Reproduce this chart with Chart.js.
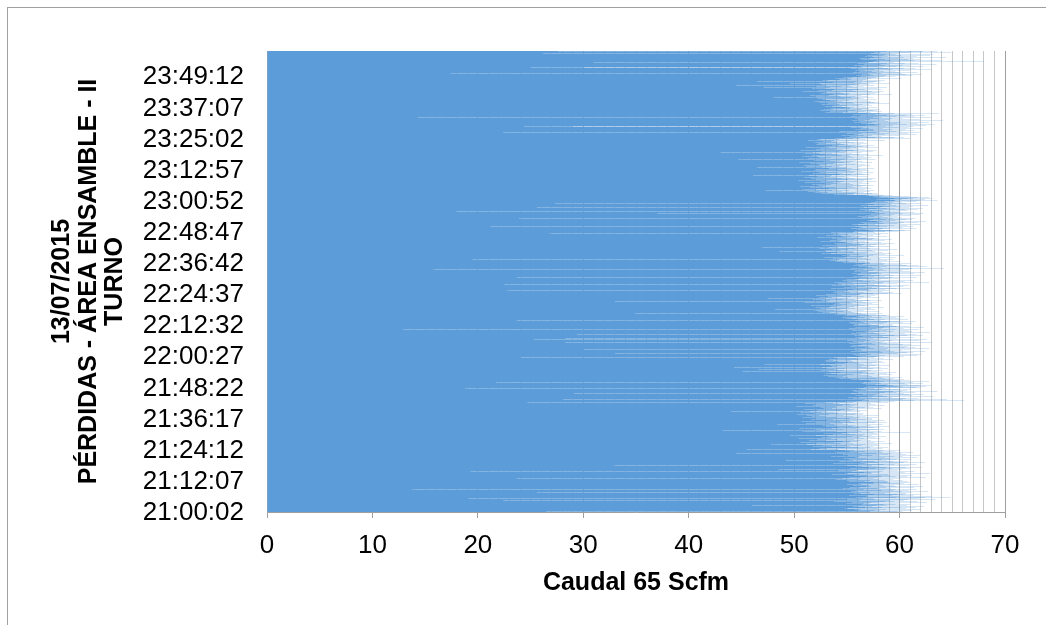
<!DOCTYPE html>
<html>
<head>
<meta charset="utf-8">
<script src="https://cdn.jsdelivr.net/npm/chart.js@4/dist/chart.umd.min.js"></script>
<style>
  html, body { margin: 0; padding: 0; background: #fff; }
  #wrap { width: 1046px; height: 625px; position: relative; }
</style>
</head>
<body>
<div id="wrap"><canvas id="lossChart" width="1046" height="625"></canvas></div>
<script>
/* =========================
   DATA (one reading every 5 s, 21:00:02 onwards)
========================= */
const startTime = '21:00:02';
const stepSeconds = 5;
const tickLabels = ['21:00:02', '21:12:07', '21:24:12', '21:36:17', '21:48:22', '22:00:27', '22:12:32',
  '22:24:37', '22:36:42', '22:48:47', '23:00:52', '23:12:57', '23:25:02', '23:37:07', '23:49:12'];
const xTicks = [0, 10, 20, 30, 40, 50, 60, 70];

const b210002 = [26.5,57.2,59.8,55.4,60.3,58.1,56.0,61.2,57.6,55.8, 59.4,62.0,56.3,58.7,55.1,60.6,57.9,59.2,54.8,61.5,
  58.3,56.7,60.1,55.6,59.0,57.4,62.3,56.1,46.0,58.8, 60.7,55.3,57.8,59.6,56.4,61.0,58.5,54.9,60.2,57.1,
  59.9,56.6,62.6,58.0,55.5,60.9,57.3,59.5,53.8,61.7, 58.6,22.4,57.0,60.4,56.2,59.1,63.4,57.7,55.0,60.8,
  58.9,19.1,56.5,61.9,57.5,59.7,64.8,58.2,55.9,62.4, 57.0,60.0,56.8,63.1,58.4,55.2,61.3,59.3,56.9,60.5,
  57.6,54.7,59.8,62.1,56.3,58.6,60.6,55.7,58.0,25.6, 61.1,57.2,59.0,55.4,60.2,57.8,62.7,56.0,59.4,58.3,
  55.8,60.9,57.4,13.8,59.6,56.6,61.6,58.1,54.6,60.3, 57.9,59.2,56.2,61.4,58.7,55.3,60.0,57.3,59.7,56.8,
  62.2,58.5,55.6,60.7,57.1,59.5,56.4,61.8,58.2,55.0, 20.7,59.9,57.6,60.4,56.1,58.8,61.0,55.9,59.1,57.5,
  60.8,56.7,58.9,55.2,61.3];
const b211207 = [58.6,55.0,60.3,57.2,53.9,59.4,61.8,56.1,58.0,23.7, 57.5,60.1,54.6,58.8,56.3,62.5,57.9,55.2,59.6,56.8,
  60.7,54.4,58.3,57.0,61.2,55.7,59.1,53.6,57.8,60.0, 56.2,58.9,55.1,62.9,57.4,59.7,54.8,58.1,56.6,60.5,
  57.3,19.3,59.2,55.5,58.4,61.4,56.0,54.2,59.8,57.6, 55.9,60.2,48.5,58.6,56.9,61.0,54.5,57.7,59.3,55.3,
  62.1,57.1,58.7,53.8,60.6,56.4,59.0,55.8,57.9,32.9, 58.2,60.9,54.9,57.4,59.5,56.1,61.6,55.0,58.5,57.0,
  53.7,59.9,56.7,60.4,55.4,58.0,62.4,56.3,57.6,54.3, 59.4,57.1,60.8,55.6,58.8,56.5,49.2,59.7,57.3,61.1,
  55.2,58.3,56.8,60.0,54.7,57.9,59.1,56.0,61.7,55.8, 58.6,53.5,57.7,60.3,56.2,59.5,55.1,58.1,62.0,56.9,
  57.4,60.6,54.6,58.9,56.4,44.5,59.2,55.5,57.8,60.2, 53.9,58.4,56.1,61.3,57.5,55.3,59.6,56.7,58.2,54.8,
  60.1,57.0,55.7,58.5,45.5];
const b212412 = [54.2,57.8,51.6,55.9,58.4,53.1,56.7,52.4,57.2,54.8, 50.9,56.1,58.9,53.6,55.3,51.8,57.5,54.0,56.4,52.7,
  58.1,55.0,47.8,56.8,53.3,57.9,51.2,55.6,59.3,54.4, 52.1,56.9,55.2,50.6,57.6,53.8,56.0,58.6,52.9,55.4,
  54.6,57.3,51.4,56.3,53.0,60.8,55.7,52.2,57.0,54.1, 56.6,50.4,55.1,58.2,53.5,56.2,52.6,57.7,54.9,51.7,
  57.1,55.5,53.2,58.7,49.6,56.5,54.3,57.4,52.0,55.8, 58.0,53.7,56.7,51.3,55.2,57.8,54.5,52.8,61.0,56.0,
  53.4,57.5,55.0,50.8,56.4,58.3,53.9,43.2,55.6,57.2, 52.5,56.1,54.7,58.5,51.9,55.3,57.9,53.6,56.8,50.5,
  55.9,58.1,52.3,56.2,54.2,57.6,53.0,55.5,59.0,51.5, 56.9,54.0,57.3,52.7,55.8,48.4,56.6,53.8,58.4,55.1,
  51.1,57.0,54.6,56.3,53.4,58.8,52.0,55.7,57.7,54.4, 56.5,50.7,55.4,57.9,53.1,56.0,58.6,52.6,55.2,57.4,
  53.7,56.8,51.6,55.9,58.2];
const b213617 = [55.3,52.1,57.4,54.0,50.8,56.2,53.5,57.9,51.7,55.6, 53.0,56.8,52.4,55.1,58.0,51.2,54.7,56.5,50.3,55.8,
  57.2,53.3,55.9,51.9,56.6,54.2,52.6,57.6,53.8,55.0, 50.6,44.0,56.3,53.1,57.8,51.5,55.4,54.4,56.9,52.2,
  55.7,57.0,50.9,54.8,56.1,52.8,58.3,53.6,55.2,51.4, 56.7,54.0,57.5,52.5,55.5,50.2,56.4,53.9,57.1,54.6,
  51.8,55.8,58.6,53.2,56.0,52.0,55.3,57.7,54.3,51.0, 56.2,53.7,57.3,24.7,55.6,58.9,52.9,56.8,54.9,59.5,
  55.9,58.2,61.4,56.4,59.8,57.1,66.1,28.1,60.3,56.7, 64.5,58.5,55.6,61.8,57.9,60.6,56.2,59.3,62.7,57.4,
  55.1,60.0,58.8,63.2,56.9,59.6,57.5,61.2,55.8,58.4, 60.9,56.5,59.0,57.8,62.3,29.1,58.1,55.4,60.4,57.0,
  59.7,56.0,61.5,58.6,55.7,60.2,57.3,59.4,63.6,56.8, 58.0,60.7,55.5,57.7,59.9,56.3,61.1,58.3,18.8,57.6,
  60.5,55.9,58.7,62.0,56.6];
const b214822 = [58.4,61.6,57.2,59.8,62.5,56.9,60.3,58.7,63.0,57.5, 59.4,61.9,56.8,58.9,60.8,57.7,62.2,59.1,56.4,60.5,
  58.2,21.7,61.3,57.9,59.6,56.6,60.1,58.5,62.8,57.3, 59.9,55.8,61.0,58.0,57.1,60.4,56.2,59.2,57.6,55.4,
  58.6,54.3,57.8,59.5,53.9,56.7,58.3,55.1,60.2,54.6, 57.4,53.2,56.0,59.0,54.9,57.1,52.8,58.1,55.6,53.7,
  59.3,56.3,54.1,57.6,52.9,58.8,55.3,53.5,57.0,54.4, 56.5,59.7,45.1,55.0,57.9,53.3,56.8,54.7,58.4,52.6,
  55.7,57.3,53.8,46.6,56.1,54.2,58.9,55.5,53.1,57.5, 54.8,56.9,52.7,58.2,55.2,44.3,57.2,53.6,56.4,54.0,
  59.1,55.8,53.4,57.7,54.5,56.6,52.5,58.0,55.9,47.2, 56.2,53.9,57.4,54.8,58.6,52.2,56.0,55.1,57.8,53.0,
  55.6,58.3,54.2,56.7,52.9,57.9,55.4,53.7,59.4,56.1, 54.6,57.1,53.3,55.9,58.5,54.1,56.8,52.4,24.1,57.6,
  55.0,53.8,58.1,56.3,54.7];
const b220027 = [57.8,60.4,55.9,58.6,61.7,56.8,59.2,57.3,62.1,58.0, 55.6,33.0,60.0,57.5,59.8,56.2,61.3,58.4,56.9,60.7,
  57.1,59.5,55.4,62.4,58.2,56.5,60.2,57.9,59.1,55.8, 30.0,58.7,61.0,56.3,59.7,57.6,62.8,55.7,58.9,60.5,
  56.7,59.0,57.2,61.5,55.3,58.5,60.8,57.0,59.4,56.1, 62.0,58.1,55.5,60.3,57.7,59.6,56.4,61.1,58.8,55.2,
  59.9,57.4,60.6,28.3,56.0,58.3,63.1,57.8,55.6,60.1, 58.6,56.6,61.9,57.2,59.3,55.0,60.9,58.0,56.8,62.6,
  25.3,28.3,59.7,56.2,60.4,57.5,58.9,61.4,55.8,59.0, 57.3,64.6,56.5,60.0,58.4,62.2,55.7,59.5,57.0,60.7,
  29.4,58.2,56.3,61.6,57.9,59.2,55.4,60.5,58.7,56.9, 62.9,57.6,59.8,55.9,58.1,61.2,56.7,59.4,57.1,60.2,
  55.5,58.8,60.9,12.9,57.4,59.6,56.0,61.8,58.3,55.2, 60.4,57.8,59.1,56.4,62.3,58.5,55.8,60.0,57.2,59.7,
  56.1,61.0,58.0,55.6,59.3];
const b221232 = [58.0,55.7,60.6,57.3,59.4,56.1,61.2,58.5,55.4,59.9, 57.0,60.3,56.6,58.8,55.2,61.5,57.7,59.1,56.3,60.0,
  23.7,58.2,56.9,59.6,55.8,57.6,60.8,56.0,58.6,54.9, 59.3,57.2,55.5,60.1,56.7,58.3,54.6,57.9,59.7,55.9,
  57.4,60.4,56.2,54.8,58.7,55.3,57.1,59.0,53.9,56.8, 55.0,57.8,53.6,34.9,56.4,54.2,58.4,52.7,55.6,57.5,
  53.4,56.0,54.7,58.1,52.3,55.4,57.0,53.8,56.6,51.9, 55.1,57.7,53.0,56.3,54.4,48.2,55.8,57.3,52.5,54.9,
  56.9,53.3,55.2,58.5,52.0,56.1,54.0,57.6,53.5,55.7, 51.6,56.7,54.5,57.1,52.8,55.0,58.0,53.7,56.2,54.3,
  57.4,52.2,55.5,53.9,56.8,50.9,55.3,57.9,54.1,33.0, 56.5,53.1,55.9,58.3,52.6,54.8,57.2,53.4,56.0,51.8,
  55.7,54.6,57.5,52.9,56.4,47.5,55.1,58.1,53.6,56.9, 54.0,52.4,57.3,55.4,53.2,56.6,58.4,54.5,52.1,55.9,
  57.7,53.0,56.3,54.2,58.0];
const b222437 = [56.2,58.9,54.1,57.5,60.2,55.3,58.0,53.7,59.4,56.6, 54.8,58.4,56.0,60.7,53.9,22.8,57.3,55.1,59.0,56.9,
  54.3,58.6,57.1,55.6,61.0,53.5,57.8,56.3,59.7,54.7, 58.1,55.9,57.4,60.4,54.0,56.7,59.2,55.4,57.9,53.6,
  58.7,56.1,60.9,22.5,55.7,57.6,54.5,59.8,56.4,58.3, 54.2,57.0,62.8,55.5,58.5,56.8,53.8,59.1,57.2,55.0,
  60.5,56.5,58.8,54.6,57.7,61.3,55.8,58.2,56.0,59.6, 54.9,57.4,60.0,56.2,58.9,23.7,55.2,59.3,57.0,61.6,
  56.4,58.6,55.6,60.8,57.6,59.4,56.7,62.0,58.1,55.9, 60.1,57.3,59.0,56.1,61.4,58.3,55.5,60.6,57.8,59.9,
  56.3,62.4,58.0,55.7,59.5,57.1,61.0,56.9,58.7,60.3, 55.8,59.2,57.5,15.8,60.9,58.4,56.6,64.2,57.7,59.7,
  55.4,61.2,58.2,56.8,60.0,57.4,59.3,62.6,56.1,58.8, 57.0,60.7,55.6,59.1,57.9,61.8,56.5,58.5,60.2,55.9,
  59.4,57.2,61.1,56.7,58.6];
const b223642 = [57.2,54.6,59.0,55.8,58.3,53.9,56.7,60.1,55.2,57.6, 54.0,58.8,56.1,53.4,19.5,57.3,55.5,59.4,54.3,56.9,
  58.2,53.7,55.9,57.8,52.8,56.4,59.6,54.8,57.1,55.0, 53.2,58.0,56.6,54.5,57.5,60.4,55.3,53.8,58.6,56.2,
  54.9,57.9,52.6,56.8,55.4,59.2,53.5,57.0,55.7,58.4, 54.1,56.3,53.0,57.7,48.6,55.6,58.9,54.4,56.5,52.9,
  57.4,55.1,59.8,53.6,56.0,54.7,58.1,52.4,57.2,55.8, 53.3,56.9,58.5,54.2,46.9,57.6,55.2,53.9,59.1,56.4,
  54.6,57.3,52.7,55.9,58.7,54.0,56.6,53.1,57.8,55.5, 59.5,53.8,56.2,54.8,27.1,57.1,55.0,58.3,52.5,56.7,
  54.3,57.9,55.6,53.4,58.6,56.0,54.5,57.4,52.9,55.7, 59.3,54.1,56.8,53.6,57.6,55.3,58.0,52.2,56.1,54.9,
  57.0,55.4,53.2,58.8,56.3,54.6,57.5,53.0,55.8,59.7, 54.4,56.9,53.7,58.2,55.1,26.8,57.3,54.2,56.5,58.9,
  53.5,57.7,55.6,59.2,56.0];
const b224847 = [57.5,59.9,55.7,58.6,61.0,56.4,59.3,57.1,60.5,55.9, 58.2,56.8,60.9,57.6,59.0,55.4,61.6,58.4,56.2,59.7,
  57.9,60.3,56.5,21.2,58.8,61.3,57.3,55.8,59.5,57.0, 60.7,58.1,56.0,59.2,62.0,57.7,55.5,60.1,58.5,56.6,
  59.8,57.4,61.8,58.0,56.3,60.4,57.8,59.1,55.6,62.5, 58.3,56.9,60.0,57.2,59.6,56.1,61.2,58.7,57.5,60.6,
  23.9,59.4,56.7,61.5,58.2,57.0,60.2,58.9,56.4,62.9, 57.6,59.8,58.4,56.0,61.1,57.9,60.7,56.8,59.2,58.1,
  61.9,57.3,59.5,56.5,37.0,60.3,58.6,62.3,57.7,59.9, 56.9,61.4,58.0,17.9,60.0,57.4,59.1,63.2,58.3,56.7,
  60.8,58.5,57.1,61.7,59.3,56.2,60.5,58.8,57.8,62.2, 59.6,57.5,25.6,60.9,58.2,56.6,61.3,59.0,57.2,60.1,
  58.4,62.7,57.0,59.7,56.3,60.4,58.7,61.0,57.6,59.2, 27.3,60.6,58.1,56.8,62.1,59.4,57.3,60.2,58.9,63.4,
  57.7,60.0,58.6,61.6,59.5];
const b230052 = [59.6,61.9,58.4,63.6,60.2,57.8,62.4,59.1,61.3,58.7, 60.8,63.1,59.5,57.9,61.7,58.9,60.4,62.8,58.2,59.9,
  61.0,57.5,59.3,60.6,56.8,58.5,57.1,55.6,58.0,54.9, 56.3,53.8,57.4,52.6,55.7,57.9,51.9,54.8,56.6,53.2,
  55.9,57.2,52.4,54.5,56.9,51.3,47.3,55.2,53.6,57.6, 52.1,55.4,54.0,56.7,50.8,55.0,57.3,53.3,54.6,56.1,
  51.5,55.8,53.9,57.0,52.7,54.3,56.4,50.6,55.5,53.0, 56.8,52.3,54.9,57.5,53.5,55.6,51.7,56.2,54.1,48.9,
  55.3,57.1,52.9,54.4,56.5,51.0,55.9,53.7,57.8,52.5, 54.7,56.0,53.1,55.5,50.4,56.6,54.2,57.4,52.0,55.1,
  53.8,56.9,51.6,55.7,54.5,57.7,52.8,54.0,56.3,50.9, 55.2,53.4,57.0,52.2,54.8,56.1,51.4,55.9,53.6,46.1,
  54.3,56.7,52.6,55.4,57.2,53.0,54.6,51.8,56.4,53.9, 55.6,52.4,57.5,54.1,50.7,55.8,53.5,56.5,52.9,54.9,
  57.1,51.9,55.3,53.7,56.2];
const b231257 = [54.2,56.8,52.0,55.5,57.6,51.6,54.9,53.3,46.5,56.1, 52.7,55.0,57.9,53.6,51.2,56.4,54.3,52.5,57.2,55.2,
  50.9,54.6,56.7,53.1,55.8,52.3,58.1,54.0,51.5,56.0, 53.7,55.3,57.4,52.1,54.7,50.5,56.5,53.9,55.6,52.8,
  57.0,54.4,51.9,55.9,53.4,44.7,56.3,52.6,54.8,57.7, 53.0,55.1,51.3,56.9,54.2,52.4,55.7,57.3,53.5,50.8,
  55.4,53.8,56.6,52.2,54.5,58.4,51.7,55.2,53.2,56.2, 52.9,54.1,57.1,51.0,55.5,53.6,56.8,52.4,43.0,54.8,
  56.4,51.8,55.0,53.4,57.5,52.6,54.3,56.0,50.6,55.6, 53.1,57.8,54.6,52.0,56.7,53.9,55.3,51.4,56.1,54.0,
  52.5,55.9,58.0,53.3,54.9,51.1,56.5,52.9,55.4,57.0, 53.6,50.3,55.8,54.2,57.6,52.1,54.7,56.3,51.6,55.1,
  53.0,56.9,54.4,52.3,55.7,57.4,51.9,54.1,56.6,53.5, 55.2,52.7,57.2,54.0,51.3,56.0,53.8,58.6,52.5,55.5,
  54.3,56.8,52.2,61.0,53.9];
const b232502 = [55.6,58.9,56.2,60.4,54.8,57.7,59.5,55.3,61.1,57.0, 58.3,55.9,60.0,56.6,54.5,59.2,57.4,61.6,55.7,58.6,
  56.0,60.8,57.3,54.9,59.0,56.4,22.4,58.1,61.9,55.5, 57.8,59.7,56.1,54.3,60.2,57.6,58.8,55.2,61.4,56.9,
  59.3,55.8,57.5,60.6,54.7,58.4,56.3,62.2,57.1,55.4, 59.9,57.2,56.5,60.9,24.4,29.0,58.7,61.3,55.6,57.9,
  62.5,56.8,59.4,57.6,60.7,55.9,58.2,63.3,57.0,59.8, 56.4,61.7,58.5,55.7,60.1,57.4,62.8,58.9,56.2,59.6,
  61.0,57.8,55.5,64.1,58.6,56.7,60.5,57.2,62.0,59.1, 56.0,60.3,58.0,61.8,55.8,59.3,14.3,57.5,63.0,58.3,
  56.6,61.4,57.9,59.7,55.4,62.4,58.8,57.1,60.6,56.3, 59.0,61.2,57.7,55.6,60.0,58.2,63.7,56.9,59.5,57.3,
  54.6,57.2,52.9,56.0,55.1,58.3,53.4,56.7,54.2,57.5, 52.5,55.8,57.9,53.7,56.4,54.0,58.1,52.8,55.3,56.9,
  53.5,57.1,54.8,51.0,55.7];
const b233707 = [55.3,57.9,53.6,56.8,54.5,58.6,52.9,56.1,55.0,57.4, 53.8,56.5,58.2,54.3,52.6,57.1,55.7,53.2,59.0,56.3,
  54.0,57.6,52.4,55.5,58.0,53.9,56.7,54.6,51.9,57.3, 55.2,53.4,56.9,58.4,54.1,52.7,57.8,55.6,53.0,56.2,
  58.7,54.8,52.2,56.6,48.0,55.4,57.5,53.5,56.0,54.4, 52.0,57.0,55.8,53.3,58.9,56.4,54.2,51.5,57.2,55.1,
  53.7,56.8,59.3,54.7,52.5,57.7,55.3,53.1,56.5,58.1, 54.4,52.8,57.4,55.9,50.8,56.3,58.5,53.6,55.6,57.0,
  52.3,56.1,54.9,58.3,53.8,56.7,51.7,55.0,57.9,54.2, 52.9,47.1,56.0,58.8,53.4,55.5,57.3,52.1,56.6,54.5,
  44.5,57.6,55.2,53.0,58.0,56.2,52.6,55.8,57.1,49.6, 56.9,54.1,59.1,52.4,55.7,57.5,53.7,56.4,54.6,58.2,
  46.5,55.9,57.8,53.2,56.5,54.8,52.7,58.6,55.4,57.0, 54.3,56.8,59.4,53.9,57.3,55.1,60.2,54.7,58.1,56.0,
  57.7,55.5,59.6,56.3,58.5];
const b234912 = [56.8,59.4,57.5,61.2,55.9,58.7,60.6,57.2,59.8,56.4, 62.1,17.4,58.3,60.2,56.9,59.1,61.7,57.8,55.6,60.0,
  58.5,56.2,62.6,57.4,59.6,55.8,61.0,58.0,56.7,60.9, 57.6,59.3,63.0,56.1,58.9,60.4,57.0,55.4,61.5,25.0,
  30.1,58.4,56.5,60.7,57.9,59.7,62.3,56.3,58.6,61.1, 57.3,55.7,60.3,58.2,63.5,56.6,59.0,57.7,61.8,56.0,
  58.8,60.5,31.0,57.1,59.5,62.7,56.8,68.0,58.1,60.1, 57.5,61.4,55.9,59.2,57.8,63.9,58.6,56.4,60.8,58.0,
  62.0,57.2,59.9,56.2,61.3,58.3,26.0,60.4,57.6,64.4, 58.9,56.7,61.6,59.4,57.4,62.9,58.5,60.2,56.9,59.6,
  61.9,57.9,63.2,58.7,26.2,60.0,57.3,62.4,59.1,64.9, 58.2,61.0,57.6,27.6,60.7,63.6,58.8,62.2];

const caudal = [].concat(b210002, b211207, b212412, b213617, b214822, b220027, b221232, b222437,
  b223642, b224847, b230052, b231257, b232502, b233707, b234912);

const ticksEvery = 145;   // 12:05 between labelled readings

function toTime(sec) {
  const h = Math.floor(sec / 3600) % 24;
  const m = Math.floor(sec / 60) % 60;
  const s = sec % 60;
  return [h, m, s].map(n => String(n).padStart(2, '0')).join(':');
}
const [h0, m0, s0] = startTime.split(':').map(Number);
const times = caudal.map((_, i) => toTime(h0 * 3600 + m0 * 60 + s0 + i * stepSeconds));

/* =========================
   CHART
========================= */
const FONT = "'Liberation Sans', Arial, sans-serif";

// white page + outer frame
const frame = {
  id: 'frame',
  beforeDraw(c) {
    const g = c.ctx;
    g.save();
    g.fillStyle = '#fff';
    g.fillRect(0, 0, c.width, c.height);
    g.strokeStyle = '#a0a0a0';
    g.lineWidth = 1;
    g.strokeRect(7.5, 7.5, 1100, 700);
    g.restore();
  }
};

// thin bars are added up (coverage) on an empty layer, then the grid goes back underneath
let under = null;
const coverage = {
  id: 'coverage',
  beforeDatasetsDraw(c) {
    const g = c.ctx;
    under = document.createElement('canvas');
    under.width = c.canvas.width;
    under.height = c.canvas.height;
    under.getContext('2d').drawImage(c.canvas, 0, 0);
    g.save();
    g.setTransform(1, 0, 0, 1, 0, 0);
    g.clearRect(0, 0, c.canvas.width, c.canvas.height);
    g.restore();
    g.globalCompositeOperation = 'lighter';
  },
  afterDatasetsDraw(c) {
    const g = c.ctx;
    g.save();
    g.setTransform(1, 0, 0, 1, 0, 0);
    g.globalCompositeOperation = 'destination-over';
    g.drawImage(under, 0, 0);
    g.restore();
    g.globalCompositeOperation = 'source-over';
  }
};

new Chart(document.getElementById('lossChart'), {
  type: 'bar',
  data: {
    labels: times,
    datasets: [{
      data: caudal,
      backgroundColor: '#5B9BD5',
      borderWidth: 0,
      barPercentage: 1,
      categoryPercentage: 1,
      inflateAmount: 0
    }]
  },
  options: {
    indexAxis: 'y',
    responsive: false,
    animation: false,
    events: [],
    layout: { padding: { left: 0, top: 51, right: 41, bottom: 0 } },
    plugins: { legend: { display: false }, tooltip: { enabled: false } },
    scales: {
      x: {
        min: 0,
        max: 70,
        afterFit: s => { s.height = 113; },
        grid: {
          color: c => (c.tick && xTicks.includes(c.tick.value)) ? '#9f9f9f' : '#c6c6c6',
          tickColor: c => (c.tick && xTicks.includes(c.tick.value)) ? '#9f9f9f' : 'rgba(0,0,0,0)',
          tickLength: 6
        },
        border: { display: true, color: '#9f9f9f' },
        ticks: {
          stepSize: 1,
          autoSkip: false,
          maxRotation: 0,
          padding: 12,
          color: '#000',
          font: { family: FONT, size: 26 },
          callback: v => xTicks.includes(v) ? String(v) : ''
        },
        title: {
          display: true,
          text: 'Caudal 65 Scfm',
          color: '#000',
          font: { family: FONT, size: 25, weight: 'bold' },
          padding: { top: 0, bottom: 27 }
        }
      },
      y: {
        reverse: true,
        afterFit: s => { s.width = 267; },
        grid: { display: false },
        border: { display: true, color: '#9f9f9f' },
        ticks: {
          autoSkip: false,
          padding: 15,
          labelOffset: 1,
          color: '#000',
          font: { family: FONT, size: 26 },
          callback: (v, i) => i % ticksEvery === 0 ? tickLabels[i / ticksEvery] : ''
        },
        title: {
          display: true,
          text: ['13/07/2015', 'PÉRDIDAS - ÁREA ENSAMBLE - II', 'TURNO'],
          color: '#000',
          font: { family: FONT, size: 25, weight: 'bold', lineHeight: 1.06 },
          padding: { top: 49, bottom: 0 }
        }
      }
    }
  },
  plugins: [frame, coverage]
});
</script>
</body>
</html>
